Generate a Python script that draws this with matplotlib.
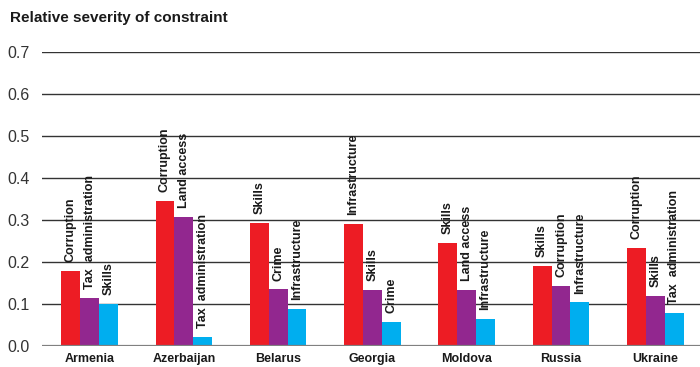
import numpy as np
import matplotlib
matplotlib.use("Agg")
import matplotlib.pyplot as plt

plt.rcParams['font.family'] = ['Liberation Sans', 'DejaVu Sans']

countries = ["Armenia", "Azerbaijan", "Belarus", "Georgia", "Moldova", "Russia", "Ukraine"]

# top three constraints per country (first, second, third)
first_vals = [0.179, 0.346, 0.294, 0.291, 0.246, 0.191, 0.234]
second_vals = [0.115, 0.308, 0.136, 0.134, 0.134, 0.144, 0.120]
third_vals = [0.101, 0.022, 0.089, 0.058, 0.065, 0.105, 0.079]

first_labels = ["Corruption", "Corruption", "Skills", "Infrastructure", "Skills", "Skills", "Corruption"]
second_labels = ["Tax  administration", "Land access", "Crime", "Skills", "Land access", "Corruption", "Skills"]
third_labels = ["Skills", "Tax  administration", "Infrastructure", "Crime", "Infrastructure", "Infrastructure", "Tax  administration"]

colors = ["#ED1C24", "#92278F", "#00AEEF"]
yticks = [0.0, 0.1, 0.2, 0.3, 0.4, 0.5, 0.6, 0.7]

fig = plt.figure(figsize=(7.0, 3.67), dpi=100)
ax = fig.add_axes([42 / 700, 21 / 367, 1 - 42 / 700, (346 - 52) / 367])

x = np.arange(len(countries))
w = 0.2

# gridlines
for t in yticks[1:]:
    ax.axhline(t, color="#333333", lw=1.0, zorder=0)
ax.axhline(0, color="#808080", lw=1.6, zorder=3)

series = [(first_vals, first_labels), (second_vals, second_labels), (third_vals, third_labels)]
for i, (vals, labs) in enumerate(series):
    pos = x + (i - 1) * w
    ax.bar(pos, vals, width=w, color=colors[i], zorder=2)
    for px, v, lab in zip(pos, vals, labs):
        ax.annotate(lab, (px, v), xytext=(0, 6), textcoords="offset points",
                    rotation=90, ha="center", va="bottom", fontsize=9,
                    fontweight="bold", color="#1a1a1a", zorder=4)

ax.set_xlim(-0.504, 6.474)
ax.set_ylim(0, 0.7)
ax.set_yticks(yticks)
ax.set_yticklabels([f"{t:.1f}" for t in yticks], fontsize=11.5, color="#333333")
ax.set_xticks(x)
ax.set_xticklabels(countries, fontsize=9, fontweight="bold", color="#1a1a1a")
ax.tick_params(axis="y", length=0, pad=9)
ax.tick_params(axis="x", length=0, pad=5)
for s in ax.spines.values():
    s.set_visible(False)

fig.text(10 / 700, 1 - 18 / 367, "Relative severity of constraint", fontsize=11,
         fontweight="bold", color="#1a1a1a", va="center", ha="left")

fig.savefig("out.png", dpi=100)
